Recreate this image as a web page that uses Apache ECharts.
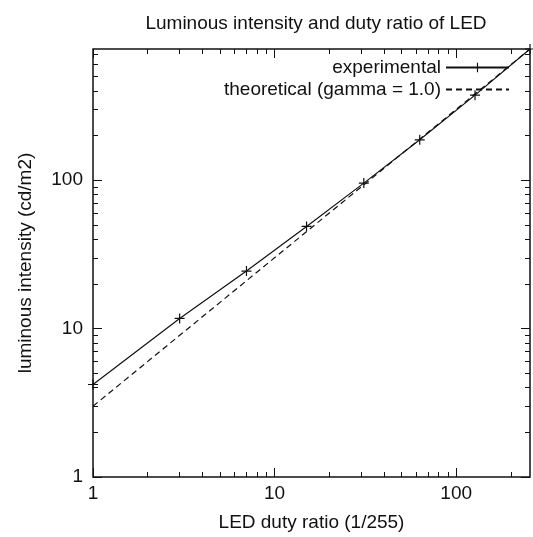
<!DOCTYPE html>
<html>
<head>
<meta charset="utf-8">
<script src="https://cdn.jsdelivr.net/npm/echarts@6/dist/echarts.min.js"></script>
<style>
html, body { margin: 0; padding: 0; background: #fff; }
#main { width: 533px; height: 537px; }
</style>
</head>
<body>
<div id="main"></div>
<script>
// 数据
var dutyX = [1, 3, 7, 15, 31, 63, 127, 255];
var expY = [4.2, 11.7, 24.4, 48.8, 95.5, 187, 374, 765];
var theoX = [1, 255];
var theoY = [3, 765];
var xMajor = [1, 10, 100];
var xMinor = [2, 3, 4, 5, 6, 7, 8, 9, 20, 30, 40, 50, 60, 70, 80, 90, 200];
var yMajor = [1, 10, 100];
var yMinor = [2, 3, 4, 5, 6, 7, 8, 9, 20, 30, 40, 50, 60, 70, 80, 90, 200, 300, 400, 500, 600, 700];

var font = "'Liberation Sans', Arial, sans-serif";
var ink = '#111';
var plus = 'path://M4.4,0h1.2v4.4h4.4v1.2h-4.4v4.4h-1.2v-4.4h-4.4v-1.2h4.4z';

function zip(a, b) {
    var out = [];
    for (var i = 0; i < a.length; i++) out.push([a[i], b[i]]);
    return out;
}

function axis(dim, pos, ticks, len, labels) {//坐标轴：主刻度/次刻度分开画
    var a = {
        type: 'log', logBase: 10, position: pos,
        min: 1, max: dim == 'x' ? 255 : 765,
        axisLine: { show: false, onZero: false },
        axisTick: { show: true, inside: true, length: len, customValues: ticks, lineStyle: { color: ink, width: 1 } },
        axisLabel: { show: false },
        splitLine: { show: false }
    };
    if (labels) {
        a.axisLabel = {
            show: true, customValues: labels, color: ink, fontSize: 19, fontFamily: font,
            margin: dim == 'x' ? 7 : 10
        };
        a.nameLocation = 'middle';
        a.nameTextStyle = { color: ink, fontSize: 19, fontFamily: font };
        if (dim == 'x') {
            a.name = 'LED duty ratio (1/255)';
            a.nameGap = 36;
        } else {
            a.name = 'luminous intensity (cd/m2)';
            a.nameGap = 58;
        }
    }
    return a;
}

var myChart = echarts.init(document.getElementById('main'));
var option = {
    animation: false,
    backgroundColor: '#fff',
    title: {
        text: 'Luminous intensity and duty ratio of LED',
        left: 311, top: 9, textAlign: 'center',
        textStyle: { color: ink, fontSize: 19, fontWeight: 'normal', fontFamily: font }
    },
    legend: {
        orient: 'vertical', align: 'right',
        right: 23, top: 58, padding: 0,
        itemWidth: 63, itemHeight: 12, itemGap: 3,
        textStyle: { color: ink, fontSize: 19, fontFamily: font },
        data: ['experimental', 'theoretical (gamma = 1.0)']
    },
    grid: {
        left: 93, right: 3, top: 49, bottom: 59,
        show: true, borderColor: ink, borderWidth: 1.5, backgroundColor: 'transparent'
    },
    xAxis: [
        axis('x', 'bottom', xMajor, 9, xMajor),
        axis('x', 'bottom', xMinor, 5),
        axis('x', 'top', xMajor, 9),
        axis('x', 'top', xMinor, 5)
    ],
    yAxis: [
        axis('y', 'left', yMajor, 9, yMajor),
        axis('y', 'left', yMinor, 5),
        axis('y', 'right', yMajor, 9),
        axis('y', 'right', yMinor, 5)
    ],
    series: [
        {
            name: 'experimental', type: 'line',
            xAxisIndex: 0, yAxisIndex: 0,
            data: zip(dutyX, expY),
            symbol: plus, symbolSize: 10,
            lineStyle: { color: ink, width: 1.2 },
            itemStyle: { color: ink }
        },
        {
            name: 'theoretical (gamma = 1.0)', type: 'line',
            xAxisIndex: 0, yAxisIndex: 0,
            data: zip(theoX, theoY),
            symbol: 'none',
            lineStyle: { color: ink, width: 1.2, type: [6, 4] },
            itemStyle: { color: 'transparent', borderWidth: 0 }//图例里不要圆点
        }
    ]
};
myChart.setOption(option);
</script>
</body>
</html>
